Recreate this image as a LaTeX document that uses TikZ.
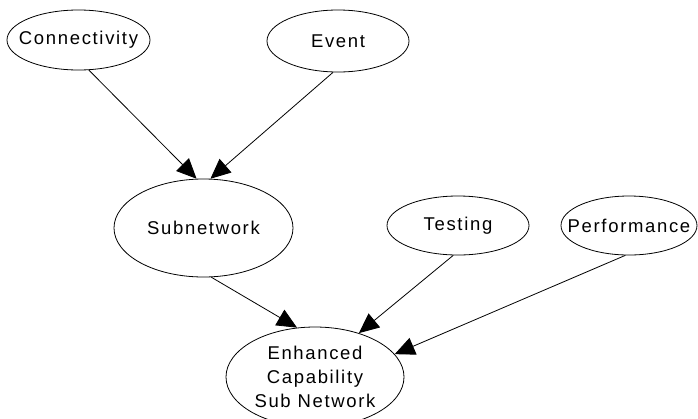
\documentclass[tikz,border=0pt]{standalone}
\usepackage{fontspec}
\setmainfont{Liberation Sans}[LetterSpace=9]
\usetikzlibrary{shapes.geometric,arrows.meta}
\begin{document}
\begin{tikzpicture}[x=1pt,y=-1pt,
  ell/.style={ellipse, draw, line width=0.8pt, inner sep=-40pt,
    font=\fontsize{18.5}{24}\selectfont, align=center},
  edge/.style={-{Triangle[length=20pt,width=18pt]}, line width=0.8pt}]
\useasboundingbox (0,0) rectangle (698,418);
\node[ell, minimum width=143pt, minimum height=60pt] (conn) at (78.5,40) {Connectivity};
\node[ell, minimum width=142pt, minimum height=62pt] (event) at (338,41) {Event};
\node[ell, minimum width=179pt, minimum height=98pt] (sub) at (203.5,228) {Subnetwork};
\node[ell, minimum width=142pt, minimum height=59pt] (test) at (458,225.5) {Testing};
\node[ell, minimum width=136pt, minimum height=59pt] (perf) at (629,225.5) {Performance};
\node[ell, minimum width=178pt, minimum height=100pt] (enh) at (315,377) {Enhanced\\Capability\\Sub Network};
\draw[edge] (conn.-71.6) -- (sub.98);
\draw[edge] (event.-99.5) -- (sub.82);
\draw[edge] (sub.-81) -- (enh.110);
\draw[edge] (test.-99.6) -- (enh.45);
\draw[edge] (perf.-97.7) -- (enh.16.7);
\end{tikzpicture}
\end{document}
